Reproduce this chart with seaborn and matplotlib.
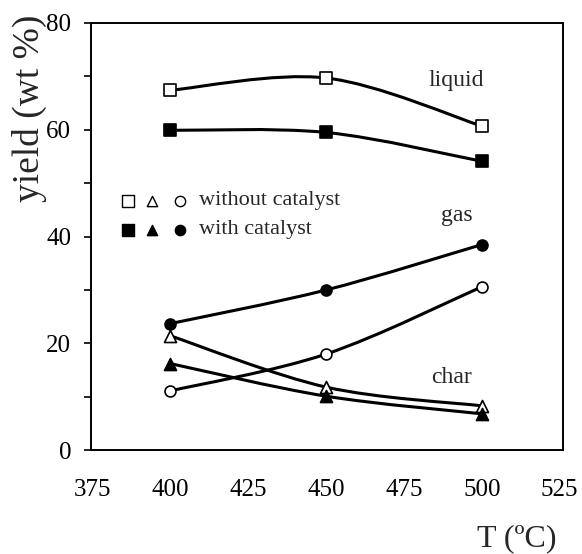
import numpy as np
import pandas as pd
import matplotlib
matplotlib.use("Agg")
import matplotlib.pyplot as plt
from matplotlib.path import Path
from matplotlib.patches import PathPatch
import seaborn as sns

# Product yields (wt %) from pyrolysis at three temperatures
temperature = [400, 450, 500]
liquid_without = [67.4, 69.7, 60.7]
liquid_with = [59.9, 59.5, 54.1]
gas_without = [11.1, 18.0, 30.6]
gas_with = [23.7, 30.0, 38.5]
char_without = [21.4, 11.8, 8.3]
char_with = [16.2, 10.1, 6.8]

x_ticks = [375, 400, 425, 450, 475, 500, 525]
y_ticks = [0, 20, 40, 60, 80]

series = [
    ("liquid", "without", liquid_without, "s"),
    ("liquid", "with", liquid_with, "s"),
    ("gas", "without", gas_without, "o"),
    ("gas", "with", gas_with, "o"),
    ("char", "without", char_without, "^"),
    ("char", "with", char_with, "^"),
]

rows = []
for product, cat, vals, mk in series:
    for t, v in zip(temperature, vals):
        rows.append({"T": t, "yield": v, "product": product, "catalyst": cat})
df = pd.DataFrame(rows)

sns.set_theme(style="white")
plt.rcParams["font.family"] = ["Liberation Serif", "DejaVu Serif"]

fig = plt.figure(figsize=(5.82, 5.54), dpi=100)
ax = fig.add_axes([0.156, 0.1875, 0.811, 0.771])
ax.set_xlim(374.4, 526)
ax.set_ylim(0, 80)


def smooth_path(xs, ys):
    """Catmull-Rom curve through the points, expressed as cubic Bezier segments."""
    pts = np.column_stack([xs, ys]).astype(float)
    n = len(pts)
    verts = [pts[0]]
    codes = [Path.MOVETO]
    for i in range(n - 1):
        p0 = pts[i - 1] if i > 0 else pts[i]
        p1 = pts[i]
        p2 = pts[i + 1]
        p3 = pts[i + 2] if i + 2 < n else pts[i + 1]
        c1 = p1 + (p2 - p0) / 6.0
        c2 = p2 - (p3 - p1) / 6.0
        verts += [c1, c2, p2]
        codes += [Path.CURVE4] * 3
    return Path(verts, codes)


for product, cat, vals, mk in series:
    ax.add_patch(PathPatch(smooth_path(temperature, vals), facecolor="none",
                           edgecolor="black", lw=2.2, zorder=2))

for product, cat, vals, mk in series:
    sub = df[(df["product"] == product) & (df["catalyst"] == cat)]
    size = 70 if mk == "s" else (62 if mk == "o" else 75)
    sns.scatterplot(data=sub, x="T", y="yield", ax=ax, marker=mk, s=size,
                    color="black" if cat == "with" else "white",
                    edgecolor="black", linewidth=1.2, zorder=3, legend=False)

ax.set_xticks(x_ticks)
ax.set_xticks(np.arange(387.5, 526, 25), minor=True)
ax.set_yticks(y_ticks)
ax.set_yticks(np.arange(10, 80, 20), minor=True)
ax.tick_params(axis="x", which="both", direction="in", length=5, width=1.2,
               labelsize=18, pad=21, colors="black")
ax.tick_params(axis="y", which="both", direction="out", length=5, width=1.2,
               labelsize=18, pad=9, left=True, colors="black")
for s in ax.spines.values():
    s.set_color("black")
    s.set_linewidth(1.4)

ax.set_xlabel("")
ax.set_ylabel("yield (wt %)", fontsize=27)
ax.yaxis.set_label_coords(-0.092, 0.80)
fig.text(0.888, 0.027, "T (ºC)", fontsize=23, ha="center", va="center")

# Product labels
ax.text(0.715, 0.866, "liquid", transform=ax.transAxes, fontsize=17, va="center")
ax.text(0.742, 0.549, "gas", transform=ax.transAxes, fontsize=17, va="center")
ax.text(0.721, 0.169, "char", transform=ax.transAxes, fontsize=17, va="center")

# Marker key
key_y = [0.584, 0.516]
key_x = [0.078, 0.13, 0.188]
key_marks = ["s", "^", "o"]
key_fill = ["white", "black"]
key_text = ["without catalyst", "with catalyst"]
for yk, fill, label in zip(key_y, key_fill, key_text):
    for xk, mk in zip(key_x, key_marks):
        ax.scatter([xk], [yk], transform=ax.transAxes, marker=mk,
                   s=70 if mk == "s" else 55, color=fill, edgecolor="black",
                   linewidth=1.0, zorder=3, clip_on=False)
    ax.text(0.23, yk, label, transform=ax.transAxes, fontsize=16, va="center")

fig.savefig("out.png", dpi=100, facecolor="white")
